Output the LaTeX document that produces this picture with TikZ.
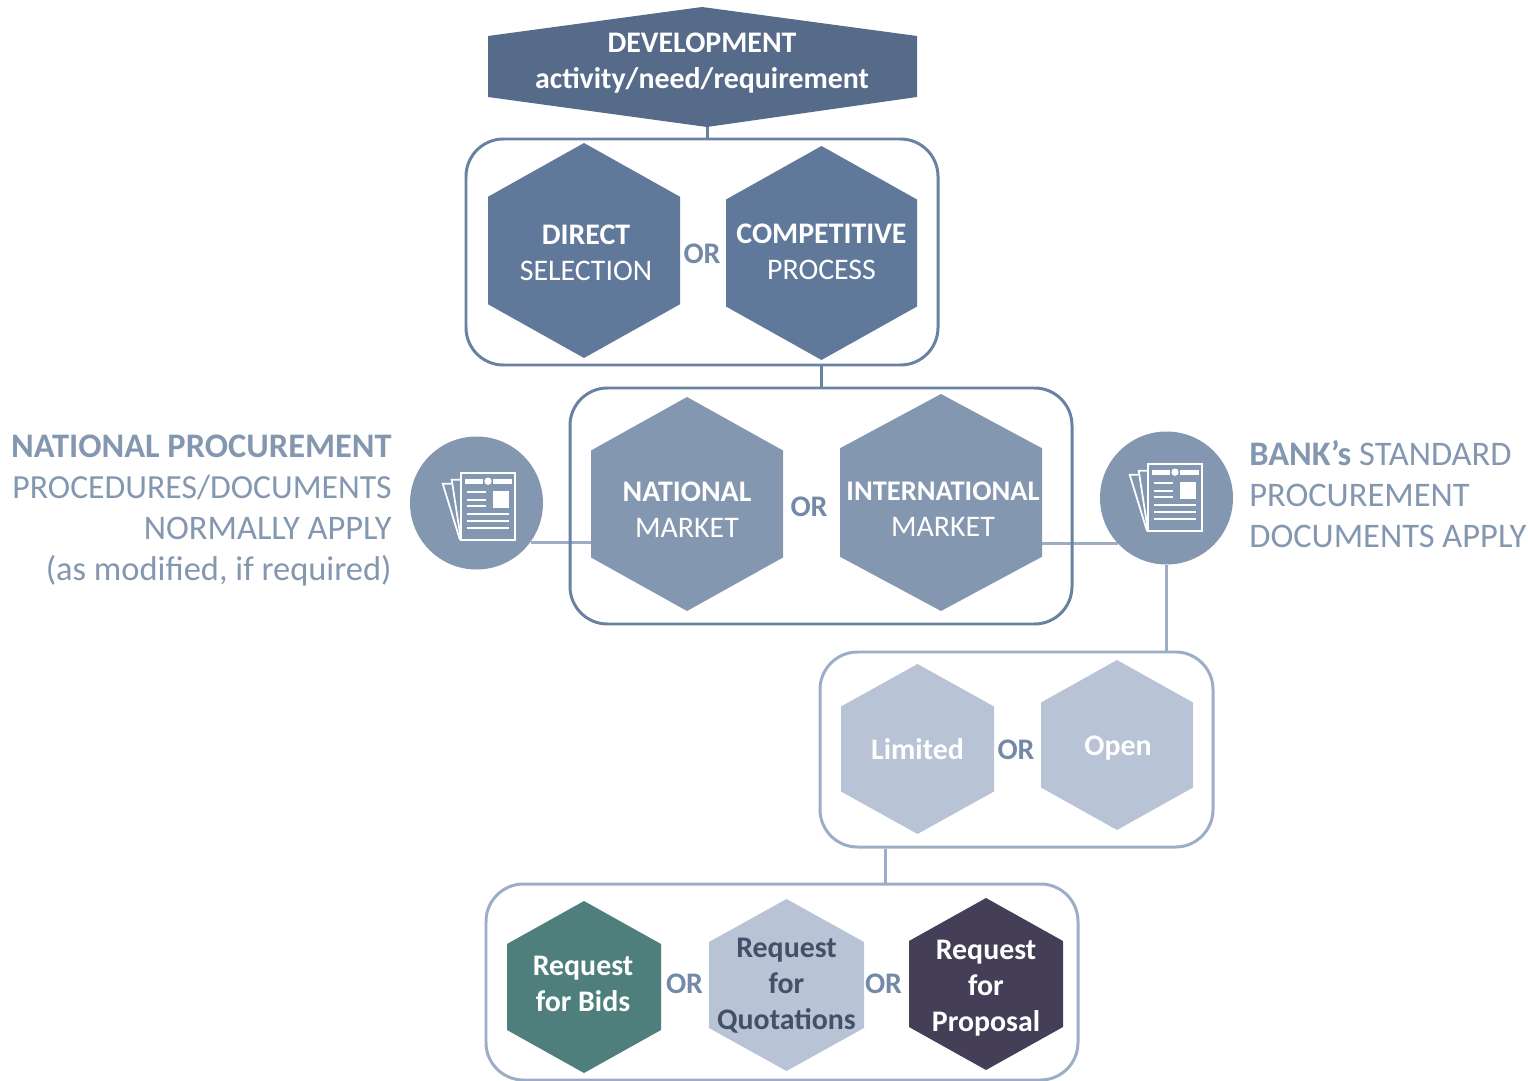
\documentclass[tikz,border=0pt]{standalone}
\usepackage{fontspec}
\usepackage{xcolor}
\setmainfont{Carlito}
\usetikzlibrary{backgrounds}
\definecolor{devblue}{HTML}{566B8A}
\definecolor{hexblue}{HTML}{60799B}
\definecolor{hexmid}{HTML}{8497B0}
\definecolor{hexpale}{HTML}{B8C3D5}
\definecolor{hexteal}{HTML}{4F7F7D}
\definecolor{hexplum}{HTML}{443F57}
\definecolor{framedark}{HTML}{6A81A3}
\definecolor{framepale}{HTML}{9DADC6}
\definecolor{ortext}{HTML}{7488A8}
\definecolor{quotetext}{HTML}{44506A}
\def\unitpx{0.02cm}
\tikzset{
  bluehex/.style={fill=hexblue,text=white},
  midhex/.style={fill=hexmid,text=white},
  palehex/.style={fill=hexpale,text=white},
  quotehex/.style={fill=hexpale,text=quotetext},
  tealhex/.style={fill=hexteal,text=white},
  plumhex/.style={fill=hexplum,text=white},
  darkframe/.style={draw=framedark,line width=1.7pt,rounded corners=0.75cm,inner sep=0pt},
  paleframe/.style={draw=framepale,line width=1.7pt,rounded corners=0.75cm,inner sep=0pt},
  darklink/.style={draw=framedark,line width=1.7pt},
  palelink/.style={draw=framepale,line width=1.7pt},
  orlabel/.style={text=ortext,font=\fontsize{17}{20}\selectfont\bfseries,inner sep=0pt},
  sidetext/.style={text=hexmid,font=\fontsize{19.6}{23.3}\selectfont,inner sep=0pt},
  doccircle/.style={circle,fill=hexmid,minimum size=133*\unitpx,inner sep=0pt},
  iconline/.style={draw=white,line width=1pt},
  iconfill/.style={fill=white},
}
% style, name, x, y, width, height, text; the optional value moves the text
\newcommand{\Hexagon}[8][(0,0)]{%
  \fill[#2] ({#4},{#5-#7/2}) -- ({#4+#6/2},{#5-#7/4}) -- ({#4+#6/2},{#5+#7/4})
    -- ({#4},{#5+#7/2}) -- ({#4-#6/2},{#5+#7/4}) -- ({#4-#6/2},{#5-#7/4}) -- cycle;
  \node[#2,fill=none,inner sep=0pt,minimum width=#6*\unitpx,minimum height=#7*\unitpx,
    align=center,font=\fontsize{17}{20.4}\selectfont,shift={#1}] (#3) at (#4,#5) {#8};
}
\newcommand{\DocIcon}[2]{%
  \begin{scope}[shift={(#1,#2)}]
  \draw[iconline] (0,6.7) -- (-9.3,6.7) -- (0,67);
  \draw[iconline] (-9.3,10.7) -- (-18.3,10.7) -- (-1,67);
  \draw[iconline,fill=hexmid] (0,0) rectangle (54.3,67.3);
  \fill[iconfill] (4,6) rectangle (22,10.5);
  \fill[iconfill] (32.3,6) rectangle (50.7,10.5);
  \fill[iconfill] (27,8.2) circle (3.7);
  \fill[iconfill] (32.3,18.3) rectangle (48.3,34.7);
  \foreach \ypos in {19.3,26.7,33.3}
    \draw[iconline] (5.7,\ypos) -- (24.7,\ypos);
  \foreach \ypos in {40.7,48,55}
    \draw[iconline] (5.7,\ypos) -- (48.3,\ypos);
  \end{scope}
}
\begin{document}
\begin{tikzpicture}[x=\unitpx,y=-\unitpx]
\useasboundingbox (0,0) rectangle (1528,1081);
\fill[devblue] (702,7) -- (917,36) -- (917,97) -- (707,127) -- (488,97) -- (488,36) -- cycle;
\node[text=white,align=center,font=\fontsize{17}{20.4}\selectfont\bfseries,minimum width=429*\unitpx,minimum height=120*\unitpx,inner sep=0pt] (development) at (702,63) {DEVELOPMENT\\activity/need/requirement};
%frames
\node[darkframe,minimum width=472*\unitpx,minimum height=226*\unitpx] (methodframe) at (702,252) {};
\node[darkframe,minimum width=502*\unitpx,minimum height=236*\unitpx] (marketframe) at (821,506) {};
\node[paleframe,minimum width=393*\unitpx,minimum height=195*\unitpx] (accessframe) at (1016.5,749.5) {};
\node[paleframe,minimum width=592*\unitpx,minimum height=196*\unitpx] (requestframe) at (782,982) {};
%hexagons
\Hexagon[(2,2)]{bluehex}{direct}{584}{250.5}{192}{215}{\textbf{DIRECT}\\SELECTION}
\Hexagon[(0,-1)]{bluehex}{competitive}{821.5}{253}{191}{214}{\textbf{COMPETITIVE}\\PROCESS}
\Hexagon[(0,6)]{midhex}{national}{687}{504}{192}{214}{\textbf{NATIONAL}\\MARKET}
\Hexagon[(2,7)]{midhex}{international}{941}{502.5}{202}{217}{\fontsize{16.2}{20.4}\selectfont\textbf{INTERNATIONAL}\\MARKET}
\Hexagon{palehex}{limited}{917.5}{749}{153}{170}{\textbf{Limited}}
\Hexagon[(1,3)]{palehex}{open}{1117}{745}{152}{170}{\textbf{Open}}
\Hexagon[(-1,-3)]{tealhex}{bids}{584}{987}{154}{172}{\textbf{Request}\\\textbf{for Bids}}
\Hexagon[(0,1)]{quotehex}{quotations}{786.5}{985}{155}{172}{\textbf{Request}\\\textbf{for}\\\textbf{Quotations}}
\Hexagon[(0,4)]{plumhex}{proposal}{986}{984}{154}{172}{\textbf{Request}\\\textbf{for}\\\textbf{Proposal}}
%or labels
\node[orlabel] (or1) at (702,254) {OR};
\node[orlabel] (or2) at (809,507) {OR};
\node[orlabel] (or3) at (1016,750) {OR};
\node[orlabel] (or4) at (684.5,984) {OR};
\node[orlabel] (or5) at (883.5,984) {OR};
%document circles
\node[doccircle] (docleft) at (476.5,503) {};
\node[doccircle] (docright) at (1166.5,498) {};
\DocIcon{461}{473}
\DocIcon{1148}{464}
%side texts
\node[sidetext,anchor=east,align=right] (nationaltext) at (392,510.5) {\textbf{NATIONAL PROCUREMENT}\\{\fontsize{19.2}{23.3}\selectfont PROCEDURES/DOCUMENTS}\\NORMALLY APPLY\\(as modified, if required)};
\node[sidetext,anchor=west,align=left] (banktext) at (1249,494.5) {\textbf{BANK’s} STANDARD\\PROCUREMENT\\DOCUMENTS APPLY};
%connectors
\begin{scope}[on background layer]
\draw[darklink] ([xshift=0.1cm]development.south) -- ([xshift=0.1cm]methodframe.north);
\draw[darklink] (methodframe.south -| marketframe.north) -- (marketframe.north);
\draw[palelink] (docleft.-36) -- (national.west |- docleft.-36);
\draw[palelink] (docright.223) -- ([xshift=-0.04cm]international.east |- docright.223);
\draw[palelink] (docright.south) -- (docright.south |- accessframe.north);
\draw[palelink] ([xshift=-2.63cm]accessframe.south) -- ([xshift=-2.63cm]accessframe.south |- requestframe.north);
\end{scope}
\end{tikzpicture}
\end{document}
